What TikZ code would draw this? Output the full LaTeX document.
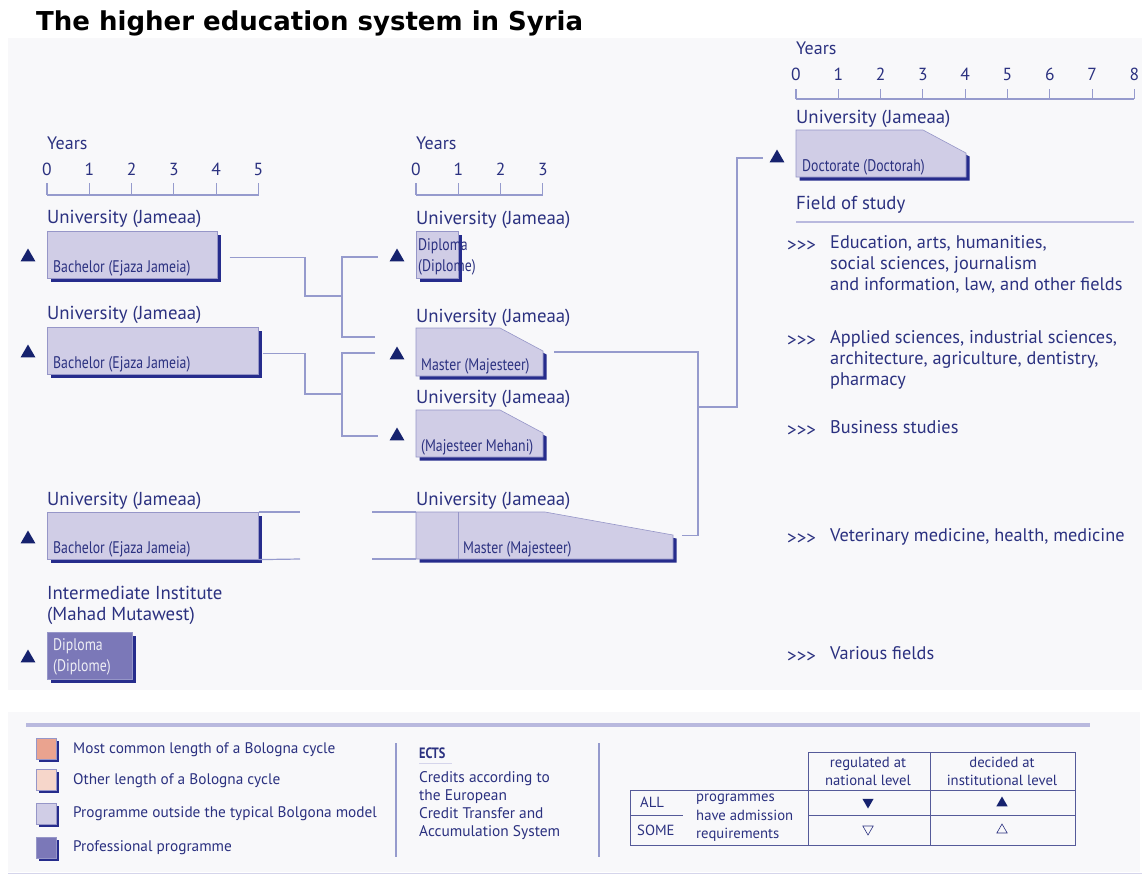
\documentclass[tikz,border=0pt]{standalone}
\usepackage{fontspec}
\setmainfont{PT Sans}
\newfontfamily\narrowfont[FakeStretch=0.82]{PT Sans}
\newfontfamily\titlefont{DejaVu Sans}
\usetikzlibrary{shapes.geometric,shadows,positioning}

\definecolor{navy}{RGB}{43,49,128}
\definecolor{trinavy}{RGB}{22,34,110}
\definecolor{boxfill}{RGB}{208,205,230}
\definecolor{boxline}{RGB}{150,150,200}
\definecolor{shade}{RGB}{38,44,140}
\definecolor{profill}{RGB}{123,120,184}
\definecolor{connline}{RGB}{150,155,205}
\definecolor{panel}{RGB}{248,248,250}
\definecolor{legline}{RGB}{185,185,222}
\definecolor{salmon}{RGB}{234,163,143}
\definecolor{peach}{RGB}{246,214,202}

% box with the north east corner cut off: node, cut width, cut height
\newcommand{\chambox}[3]{%
  \path[fill=shade,transform canvas={shift={(3.5pt,-3.5pt)}}] (#1.north west) -- ([xshift=-#2]#1.north east)
    -- ([yshift=-#3]#1.north east) -- (#1.south east) -- (#1.south west) -- cycle;
  \path[draw=boxline,fill=boxfill,line width=.6pt] (#1.north west) -- ([xshift=-#2]#1.north east)
    -- ([yshift=-#3]#1.north east) -- (#1.south east) -- (#1.south west) -- cycle;}

\begin{document}
\begin{tikzpicture}[x=1pt,y=-1pt,
    uni/.style={anchor=west,text=navy,inner sep=0pt,font=\fontsize{18.8}{21}\selectfont},
    yrs/.style={anchor=west,text=navy,inner sep=0pt,font=\fontsize{18}{21}\selectfont},
    num/.style={text=navy,inner sep=0pt,font=\fontsize{17.5}{20}\selectfont},
    axis/.style={draw=connline,line width=1.1pt},
    prog/.style={draw=boxline,fill=boxfill,line width=.6pt,anchor=north west,inner sep=0pt,
      drop shadow={shadow xshift=3.5pt,shadow yshift=-3.5pt,fill=shade,opacity=1}},
    slot/.style={anchor=north west,inner sep=0pt,outer sep=0pt},
    proftext/.style={anchor=south west,text=navy,inner sep=0pt,align=left,
      font=\narrowfont\fontsize{16.8}{21}\selectfont},
    tri/.style={regular polygon,regular polygon sides=3,fill=trinavy,inner sep=0pt,minimum size=17pt},
    conn/.style={draw=connline,line width=1.2pt},
    field/.style={anchor=north west,text=navy,inner sep=0pt,align=left,
      font=\fontsize{18.3}{21}\selectfont},
    arr/.style={anchor=west,text=navy,inner sep=0pt,font=\fontsize{19}{21}\selectfont},
    legtext/.style={anchor=west,text=navy,inner sep=0pt,font=\fontsize{15.3}{18}\selectfont},
    sq/.style={minimum width=20pt,minimum height=21pt,inner sep=0pt,draw=boxline,line width=.5pt,
      drop shadow={shadow xshift=2.5pt,shadow yshift=-2.5pt,fill=shade,opacity=1}},
    tab/.style={draw=navy!80,line width=.9pt},
    tabtext/.style={text=navy,inner sep=0pt,align=center,font=\fontsize{14.7}{18}\selectfont},
    smalltri/.style={regular polygon,regular polygon sides=3,inner sep=0pt,minimum size=13pt}]

  \useasboundingbox (0,0) rectangle (1142,876);
  \fill[panel] (8,38) rectangle (1142,690);
  \fill[panel] (8,712) rectangle (1140,872);

  \node[anchor=west,inner sep=0pt,font=\titlefont\bfseries\fontsize{26}{30}\selectfont] (title) at (36,23)
    {The higher education system in Syria};

  % first cycle
  \node[yrs] (yrsA) at (47,143) {Years};
  \draw[axis] (47,195) -- (258.5,195);
  \foreach \i in {0,...,5} {
    \node[num] (ta\i) at (47+42.3*\i,169) {\i};
    \draw[axis] (47+42.3*\i,183) -- (47+42.3*\i,195);
  }

  \node[uni] (uB1) at (47,219) {University (Jameaa)};
  \node[prog,minimum width=170pt,minimum height=47pt] (b1) at (47,231) {};
  \node[proftext] (b1t) at ([shift={(6,-2)}]b1.south west) {Bachelor (Ejaza Jameia)};
  \node[tri] (tb1) at (28,257) {};

  \node[uni] (uB2) at (47,315) {University (Jameaa)};
  \node[prog,minimum width=211pt,minimum height=47pt] (b2) at (47,327) {};
  \node[proftext] (b2t) at ([shift={(6,-2)}]b2.south west) {Bachelor (Ejaza Jameia)};
  \node[tri] (tb2) at (28,353) {};

  \node[uni] (uB3) at (47,501) {University (Jameaa)};
  \node[prog,minimum width=211pt,minimum height=47pt] (b3) at (47,512) {};
  \node[proftext] (b3t) at ([shift={(6,-2)}]b3.south west) {Bachelor (Ejaza Jameia)};
  \node[tri] (tb3) at (28,539) {};

  \node[uni,align=left,anchor=north west] (uI) at (47,586) {Intermediate Institute\\(Mahad Mutawest)};
  \node[prog,fill=profill,minimum width=85pt,minimum height=47pt] (b4) at (47,632) {};
  \node[proftext,text=white!92!navy,anchor=north west] (b4t) at ([shift={(6,6)}]b4.north west) {Diploma\\(Diplome)};
  \node[tri] (tb4) at (28,658) {};

  % second cycle
  \node[yrs] (yrsB) at (416,143) {Years};
  \draw[axis] (416,195) -- (543,195);
  \foreach \i in {0,...,3} {
    \node[num] (tb\i) at (416+42.3*\i,169) {\i};
    \draw[axis] (416+42.3*\i,183) -- (416+42.3*\i,195);
  }

  \node[uni] (uM1) at (416,220) {University (Jameaa)};
  \node[prog,minimum width=42pt,minimum height=47pt] (m1) at (416,231) {};
  \node[proftext,anchor=north west] (m1t) at ([shift={(2,7)}]m1.north west) {Diploma\\(Diplome)};
  \node[tri] (tm1) at (397,257) {};

  \node[uni] (uM2) at (416,318) {University (Jameaa)};
  \node[slot,minimum width=127pt,minimum height=48pt] (m2) at (416,328) {};
  \chambox{m2}{43pt}{23pt}
  \node[proftext] (m2t) at ([shift={(5,-2)}]m2.south west) {Master (Majesteer)};
  \node[tri] (tm2) at (397,355) {};

  \node[uni] (uM3) at (416,399) {University (Jameaa)};
  \node[slot,minimum width=127pt,minimum height=47pt] (m3) at (416,410) {};
  \chambox{m3}{43pt}{23pt}
  \node[proftext] (m3t) at ([shift={(5,-2)}]m3.south west) {(Majesteer Mehani)};
  \node[tri] (tm3) at (397,436) {};

  \node[uni] (uM4) at (416,501) {University (Jameaa)};
  \node[slot,minimum width=257pt,minimum height=47pt] (m4) at (416,512) {};
  \chambox{m4}{128pt}{23pt}
  \draw[draw=boxline,line width=.8pt] (458,512) -- (458,559);
  \node[proftext] (m4t) at ([shift={(47,-2)}]m4.south west) {Master (Majesteer)};

  % third cycle
  \node[yrs] (yrsC) at (796,48) {Years};
  \draw[axis] (796,99) -- (1134,99);
  \foreach \i in {0,...,8} {
    \node[num] (tc\i) at (796+42.3*\i,74) {\i};
    \draw[axis] (796+42.3*\i,89) -- (796+42.3*\i,99);
  }
  \node[uni] (uD) at (796,119) {University (Jameaa)};
  \node[slot,minimum width=170pt,minimum height=47pt] (d1) at (796,130) {};
  \chambox{d1}{43pt}{23pt}
  \node[proftext] (d1t) at ([shift={(6,-2)}]d1.south west) {Doctorate (Doctorah)};
  \node[tri] (td1) at (777,158) {};

  % connectors
  \coordinate (kA) at (342,296);
  \coordinate (kB) at (342,394);
  \coordinate (jR) at (698,407);
  \draw[conn] ([shift={(12,3)}]b1.east) -| (305,296) -- (kA);
  \draw[conn] ([xshift=-14pt]tm1.west) -| (kA) |- (375,337);
  \draw[conn] ([shift={(4,3)}]b2.east) -| (305,394) -- (kB);
  \draw[conn] (375,353) -| (kB) |- ([xshift=-14pt]tm3.west);
  \coordinate (b3a) at (300,512);
  \coordinate (b3b) at (300,559);
  \coordinate (m4a) at (372,512);
  \coordinate (m4b) at (372,559);
  \draw[conn] (b3.north east) -- (b3a);
  \draw[conn] (b3.south east) -- (b3b);
  \draw[conn] (m4a) -- (m4.north west);
  \draw[conn] (m4b) -- (m4.south west);
  \draw[conn] ([xshift=11pt]m2.east) -| (jR) |- ([xshift=9pt]m4.east);
  \draw[conn] (jR) -- (737,407) |- ([xshift=-9pt]td1.west);

  % fields of study
  \node[uni] (fos) at (796,205) {Field of study};
  \draw[draw=legline,line width=2pt] (796,222) -- (1134,222);
  \node[arr] (a1) at (787,246) {>{}>{}>};
  \node[field] (f1) at (830,235) {Education, arts, humanities,\\social sciences, journalism\\and information, law, and other fields};
  \node[arr] (a2) at (787,341) {>{}>{}>};
  \node[field] (f2) at (830,330) {Applied sciences, industrial sciences,\\architecture, agriculture, dentistry,\\pharmacy};
  \node[arr] (a3) at (787,431) {>{}>{}>};
  \node[field] (f3) at (830,420) {Business studies};
  \node[arr] (a4) at (787,539) {>{}>{}>};
  \node[field] (f4) at (830,528) {Veterinary medicine, health, medicine};
  \node[arr] (a5) at (787,657) {>{}>{}>};
  \node[field] (f5) at (830,646) {Various fields};

  % legend
  \draw[draw=legline,line width=4pt] (26,725) -- (1090,725);
  \draw[draw=legline!60,line width=1pt] (8,873) -- (1142,873);
  \node[sq,fill=salmon] (lg1) at (46,749) {};
  \node[legtext] (lt1) at (73,750) {Most common length of a Bologna cycle};
  \node[sq,fill=peach] (lg2) at (46,780) {};
  \node[legtext] (lt2) at (73,781) {Other length of a Bologna cycle};
  \node[sq,fill=boxfill] (lg3) at (46,814) {};
  \node[legtext] (lt3) at (73,814) {Programme outside the typical Bolgona model};
  \node[sq,fill=profill] (lg4) at (46,848) {};
  \node[legtext] (lt4) at (73,848) {Professional programme};

  \draw[conn] (396,743) -- (396,857);
  \node[legtext,font=\narrowfont\bfseries\fontsize{15}{18}\selectfont] (ects) at (419,753) {ECTS};
  \draw[draw=legline!60,line width=1pt] (419,763) -- (452,763);
  \node[field,font=\fontsize{15.4}{18.2}\selectfont] (ectsd) at (419,771) {Credits according to\\the European\\Credit Transfer and\\Accumulation System};
  \draw[conn] (599,743) -- (599,857);

  % admission table
  \draw[tab] (808,752) rectangle (1075,790);
  \draw[tab] (630,790) rectangle (1075,845);
  \draw[tab] (930,752) -- (930,845);
  \draw[tab] (808,790) -- (808,845);
  \draw[tab] (630,815) -- (683,815);
  \draw[tab] (808,815) -- (1075,815);
  \node[tabtext] (h1) at (868,771) {regulated at\\national level};
  \node[tabtext] (h2) at (1002,771) {decided at\\institutional level};
  \node[tabtext,anchor=west] (all) at (640,802) {ALL};
  \node[tabtext,anchor=west] (some) at (637,830) {SOME};
  \node[tabtext,anchor=west,align=left,font=\fontsize{14.7}{18.5}\selectfont] (req) at (696,818) {programmes\\have admission\\requirements};
  \node[smalltri,fill=trinavy,shape border rotate=180] (r1) at (868,802) {};
  \node[smalltri,fill=trinavy] (r2) at (1002,803) {};
  \node[smalltri,draw=navy,line width=.6pt,shape border rotate=180,minimum size=12pt] (r3) at (868,829) {};
  \node[smalltri,draw=navy,line width=.6pt,minimum size=12pt] (r4) at (1002,830) {};
\end{tikzpicture}
\end{document}
